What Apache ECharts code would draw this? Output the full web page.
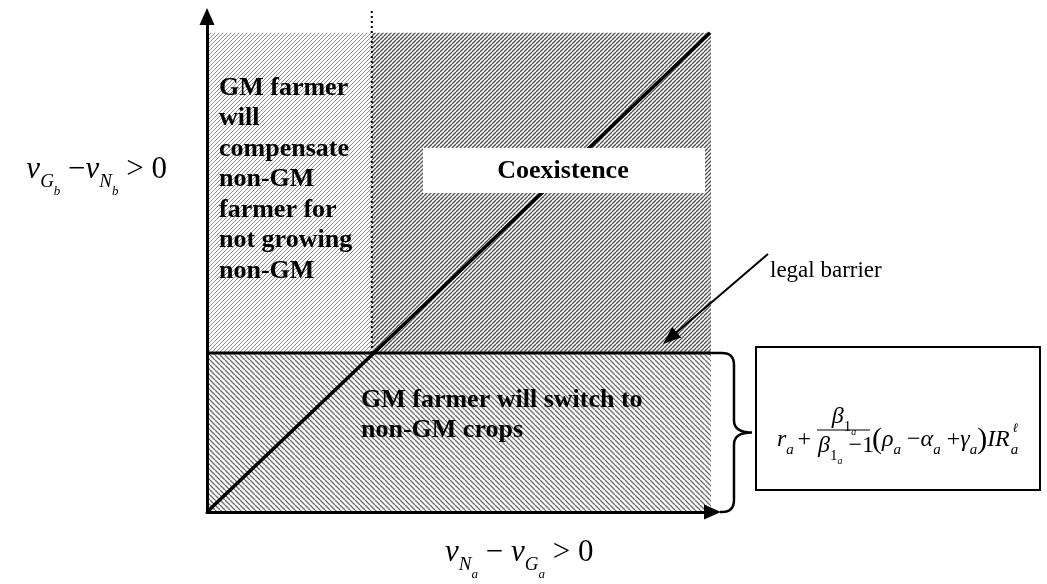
<!DOCTYPE html>
<html>
<head>
<meta charset="utf-8">
<script src="https://cdn.jsdelivr.net/npm/echarts@6/dist/echarts.min.js"></script>
<style>
html,body{margin:0;padding:0;background:#ffffff;}
#chart{width:1047px;height:584px;}
</style>
</head>
<body>
<div id="chart"></div>
<script>
// ---------------- data ----------------
const regionNames   = ['compensate', 'coexistence', 'switch'];
const regionXStart  = [0, 32.6, 0];
const regionXEnd    = [32.6, 99.7, 99.7];
const regionYStart  = [32.1, 32.1, 0];
const regionYEnd    = [96.7, 96.7, 32.1];
const diagonalX     = [0, 99.5];
const diagonalY     = [0, 96.7];
const barrierLevel  = 32.1;
const barrierXEnd   = 99.7;
const dividerX      = 32.6;
const dividerYEnd   = 101.7;
const axisMax       = 100;

const leftText    = ['GM farmer', 'will', 'compensate', 'non-GM', 'farmer for', 'not growing', 'non-GM'];
const lowerText   = ['GM farmer will switch to', 'non-GM crops'];
const coexText    = 'Coexistence';
const barrierText = 'legal barrier';

// ---------------- helpers ----------------
const SERIF = '"Liberation Serif", "Times New Roman", Times, serif';

function makeHatch(size, dir, color, width) {
  const c = document.createElement('canvas');
  c.width = size; c.height = size;
  const g = c.getContext('2d');
  g.fillStyle = '#ffffff';
  g.fillRect(0, 0, size, size);
  g.strokeStyle = color;
  g.lineWidth = width;
  g.beginPath();
  for (let k = -1; k <= 1; k++) {
    if (dir === '/') { g.moveTo(k * size, size); g.lineTo(k * size + size, 0); }
    else { g.moveTo(k * size, 0); g.lineTo(k * size + size, size); }
  }
  g.stroke();
  return c;
}
const hatches = [
  makeHatch(4, '/', '#8c8c8c', 1.0),
  makeHatch(4, '/', '#505050', 1.4),
  makeHatch(5, '\\', '#707070', 1.4)
];

function mathStyles(size, base, subK, ssK) {
  const s = Math.round(size * 0.62), ss = Math.round(size * 0.42), p = Math.round(size * 1.25);
  const c = base + size / 2;
  const subC = c + size * subK;
  const ssC = c + size * ssK;
  const mk = (fs, italic, centre) => ({
    fontFamily: SERIF, fontSize: fs, fontStyle: italic ? 'italic' : 'normal',
    fill: '#000', color: '#000', height: fs, verticalAlign: 'top',
    padding: [Math.max(0, centre - fs / 2), 0, 0, 0]
  });
  return {
    v: mk(size, true, c), o: mk(size, false, c), P: mk(p, false, c),
    s: mk(s, true, subC), n: mk(s, false, subC), ss: mk(ss, true, ssC)
  };
}
const measureCtx = document.createElement('canvas').getContext('2d');
function richWidth(str, styles) {
  let w = 0;
  str.replace(/\{(\w+)\|([^}]*)\}/g, (m, name, txt) => {
    const st = styles[name];
    measureCtx.font = (st.fontStyle === 'italic' ? 'italic ' : '') + st.fontSize + 'px ' + SERIF;
    w += measureCtx.measureText(txt).width;
    return m;
  });
  return w;
}

function textEl(x, y, text, extra) {
  const style = Object.assign({
    text: text, fill: '#000', align: 'left', textAlign: 'left',
    verticalAlign: 'top', textVerticalAlign: 'top'
  }, extra || {});
  if (style.align) style.textAlign = style.align;
  if (style.verticalAlign) style.textVerticalAlign = style.verticalAlign;
  return { type: 'text', x: x, y: y, z: 60, silent: true, style: style };
}

// ---------------- chart ----------------
const chart = echarts.init(document.getElementById('chart'), null, { renderer: 'canvas' });

const axisCommon = {
  type: 'value', min: 0, max: axisMax, z: 10,
  splitLine: { show: false }, axisTick: { show: false }, axisLabel: { show: false },
  axisLine: { show: true, onZero: true, symbol: ['none', 'triangle'], symbolSize: [15, 17],
              lineStyle: { color: '#000', width: 3 } }
};

const axisStyles = mathStyles(31, 0, 0.40, 0.70);
const yLabel = '{v|v}{s|G}{ss|b}{o| −}{v|v}{s|N}{ss|b}{o| > 0}';
const xLabel = '{v|v}{s|N}{ss|a}{o| − }{v|v}{s|G}{ss|a}{o| > 0}';
const yLabelRight = 167;
const yLabelX = yLabelRight - richWidth(yLabel, axisStyles);

const fBase = 4, fSize = 24;
const fStyles = mathStyles(fSize, fBase, 0.40, 0.66);
const fMain = fBase + fSize / 2;
const formA = '{v|r}{s|a }{o|+}';
const formNum = '{v|β}{n|1}{ss|a}';
const formDen = '{v|β}{n|1}{ss|a}{o| −1}';
const formB = '{P|(}{v|ρ}{s|a}{o| −}{v|α}{s|a}{o| +}{v|γ}{s|a}{P|)}{v|IR}';
const formCentreY = 440;
const formBx = 872;
const formBEnd = formBx + richWidth(formB, fStyles);

// legal barrier arrow
const arrFrom = [768, 254], arrTip = [663, 344];
const adx = arrTip[0] - arrFrom[0], ady = arrTip[1] - arrFrom[1];
const alen = Math.hypot(adx, ady), ux = adx / alen, uy = ady / alen;
const headL = 18, headW = 7;
const hb = [arrTip[0] - ux * headL, arrTip[1] - uy * headL];

function quadPts(p0, p1, p2, n) {
  const pts = [];
  for (let i = 1; i <= n; i++) {
    const t = i / n, a = (1 - t) * (1 - t), b = 2 * (1 - t) * t, c = t * t;
    pts.push([a * p0[0] + b * p1[0] + c * p2[0], a * p0[1] + b * p1[1] + c * p2[1]]);
  }
  return pts;
}

const option = {
  animation: false,
  backgroundColor: '#ffffff',
  grid: { left: 207, top: 16.5, width: 505.5, height: 495.5, containLabel: false },
  xAxis: axisCommon,
  yAxis: axisCommon,
  series: [
    {
      type: 'custom', name: 'regions', z: 1, silent: true, clip: false,
      data: regionNames.map((n, i) => ({ name: n, value: [regionXStart[i], regionXEnd[i], regionYStart[i], regionYEnd[i]] })),
      encode: { x: [0, 1], y: [2, 3] },
      renderItem: function (params, api) {
        const a = api.coord([api.value(0), api.value(3)]);
        const b = api.coord([api.value(1), api.value(2)]);
        return {
          type: 'rect',
          shape: { x: a[0], y: a[1], width: b[0] - a[0], height: b[1] - a[1] },
          style: { fill: { image: hatches[params.dataIndex], repeat: 'repeat' }, stroke: null }
        };
      }
    },
    {
      type: 'line', name: 'diagonal', z: 3, silent: true, symbol: 'none',
      data: diagonalX.map((x, i) => [x, diagonalY[i]]),
      lineStyle: { color: '#000', width: 3.5 }
    },
    {
      type: 'line', name: 'barrier', z: 4, silent: true, symbol: 'none',
      data: [[0, barrierLevel], [barrierXEnd, barrierLevel]],
      lineStyle: { color: '#000', width: 3 }
    },
    {
      type: 'line', name: 'divider', z: 3, silent: true, symbol: 'none', clip: false,
      data: [[dividerX, barrierLevel], [dividerX, dividerYEnd]],
      lineStyle: { color: '#000', width: 2, type: [2, 3] }
    },
    {
      type: 'custom', name: 'brace', z: 4, silent: true, clip: false,
      data: [[barrierXEnd, barrierLevel, 0]],
      renderItem: function (params, api) {
        const top = api.coord([api.value(0), api.value(1)]);
        const bot = api.coord([api.value(0), api.value(2)]);
        const x0 = top[0], yT = top[1], yB = bot[1], yM = (yT + yB) / 2;
        const xv = x0 + 23, xt = x0 + 41, r = 12;
        let pts = [[x0, yT], [xv - r, yT]];
        pts = pts.concat(quadPts([xv - r, yT], [xv, yT], [xv, yT + r], 8));
        pts.push([xv, yM - r]);
        pts = pts.concat(quadPts([xv, yM - r], [xv, yM], [xt, yM], 8));
        pts = pts.concat(quadPts([xt, yM], [xv, yM], [xv, yM + r], 8));
        pts.push([xv, yB - r]);
        pts = pts.concat(quadPts([xv, yB - r], [xv, yB], [xv - r, yB], 8));
        pts.push([x0 + 9, yB]);
        return { type: 'polyline', shape: { points: pts }, style: { fill: null, stroke: '#000', lineWidth: 2.5 } };
      }
    }
  ],
  graphic: [
    // Coexistence label box
    { type: 'rect', z: 50, silent: true, shape: { x: 423, y: 148, width: 282, height: 45 }, style: { fill: '#ffffff' } },
    textEl(563, 171, coexText, { font: 'bold 26px ' + SERIF, align: 'center', verticalAlign: 'middle' }),
    // left region text
    textEl(219, 72.75, leftText.join('\n'), { font: 'bold 26px ' + SERIF, lineHeight: 30.5 }),
    // lower region text
    textEl(361, 385, lowerText.join('\n'), { font: 'bold 26px ' + SERIF, lineHeight: 30 }),
    // legal barrier
    textEl(770, 271, barrierText, { font: '23px ' + SERIF, verticalAlign: 'middle' }),
    { type: 'line', z: 55, silent: true, shape: { x1: arrFrom[0], y1: arrFrom[1], x2: hb[0] + ux * 2, y2: hb[1] + uy * 2 },
      style: { stroke: '#000', lineWidth: 2 } },
    { type: 'polygon', z: 55, silent: true,
      shape: { points: [arrTip, [hb[0] - uy * headW, hb[1] + ux * headW], [hb[0] + uy * headW, hb[1] - ux * headW]] },
      style: { fill: '#000' } },
    // formula box
    { type: 'rect', z: 50, silent: true, shape: { x: 756, y: 347, width: 284, height: 143 },
      style: { fill: '#ffffff', stroke: '#000', lineWidth: 2 } },
    textEl(777, formCentreY - fMain, formA, { rich: fStyles }),
    textEl(844, 417 - fMain, formNum, { rich: fStyles, align: 'center' }),
    { type: 'line', z: 60, silent: true, shape: { x1: 817, y1: 430, x2: 870, y2: 430 }, style: { stroke: '#000', lineWidth: 1.2 } },
    textEl(818, 446 - fMain, formDen, { rich: fStyles }),
    textEl(formBx, formCentreY - fMain, formB, { rich: fStyles }),
    textEl(formBEnd + 1, formCentreY + 10, 'a', { font: 'italic 15px ' + SERIF, verticalAlign: 'middle' }),
    textEl(formBEnd + 3, formCentreY - 11, 'ℓ', { font: 'italic 13px ' + SERIF, verticalAlign: 'middle' }),
    // axis titles
    textEl(yLabelX, 170 - 15.5, yLabel, { rich: axisStyles }),
    textEl(445, 553 - 15.5, xLabel, { rich: axisStyles })
  ]
};
chart.setOption(option);
</script>
</body>
</html>
